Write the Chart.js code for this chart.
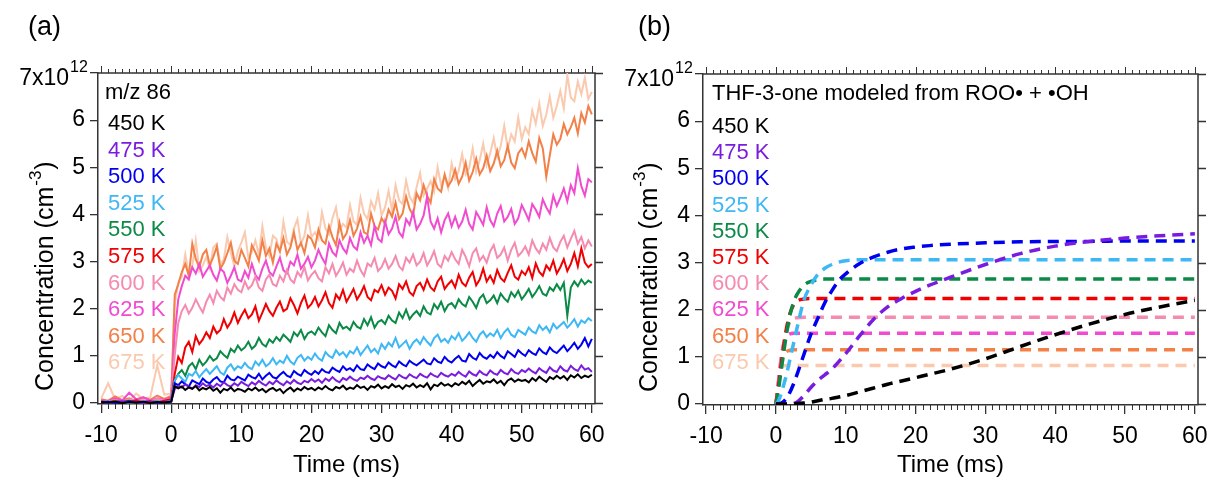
<!DOCTYPE html>
<html>
<head>
<meta charset="utf-8">
<script src="https://cdn.jsdelivr.net/npm/chart.js@4.4.1/dist/chart.umd.min.js"></script>
<style>
  body { margin: 0; background: #fff; }
  #wrap { position: relative; width: 1211px; height: 481px; }
  canvas { position: absolute; top: 0; }
</style>
</head>
<body>
<div id="wrap">
  <canvas id="chartA" width="606" height="481" style="left:0px"></canvas>
  <canvas id="chartB" width="605" height="481" style="left:606px"></canvas>
</div>
<script>
// Temperaturen + Farben (gleich in beiden Panels)
const tempLabels = ['450 K', '475 K', '500 K', '525 K', '550 K', '575 K', '600 K', '625 K', '650 K', '675 K'];
const tempColors = ['#000000', '#7A1CE0', '#0000F0', '#3DB8F5', '#0B8A47', '#F00000', '#F58BB0', '#F14BD0', '#F28048', '#FAC9AE'];

// Zeitachse Panel (a): -10..-1 ms, dann 0..60 ms alle 0.5 ms
const timeA = [-10, -9, -8, -7, -6, -5, -4, -3, -2, -1];
for (let t = 0; t <= 60; t += 0.5) timeA.push(t);

// gemessene Konzentration m/z 86 (in 1e12 cm^-3)
const a450 = [0.02,0.01,0.03,0.00,0.02,0.01,0.03,0.00,0.02,0.01,0.03,
  0.36,0.31,0.35,0.28,0.33,0.30,0.36,0.27,0.32,0.29,
  0.34,0.26,0.31,0.22,0.30,0.27,0.33,0.25,0.30,0.28,
  0.24,0.31,0.27,0.33,0.26,0.30,0.23,0.29,0.32,0.26,
  0.30,0.21,0.28,0.33,0.25,0.31,0.27,0.34,0.29,0.32,
  0.27,0.33,0.29,0.36,0.30,0.27,0.34,0.31,0.37,0.29,
  0.33,0.30,0.38,0.32,0.35,0.28,0.36,0.33,0.39,0.31,
  0.36,0.32,0.40,0.34,0.37,0.30,0.38,0.35,0.41,0.33,
  0.38,0.34,0.42,0.29,0.39,0.36,0.43,0.37,0.40,0.35,
  0.42,0.38,0.45,0.40,0.47,0.36,0.43,0.49,0.41,0.46,
  0.44,0.50,0.42,0.47,0.38,0.48,0.52,0.45,0.50,0.47,
  0.49,0.44,0.53,0.47,0.56,0.50,0.45,0.55,0.51,0.58,
  0.52,0.57,0.49,0.59,0.54,0.61,0.53,0.58,0.55,0.60];
const a475 = [0.03,0.00,0.02,0.04,0.01,0.02,0.00,0.03,0.01,0.02,0.04,
  0.30,0.37,0.33,0.40,0.35,0.31,0.38,0.34,0.42,0.36,
  0.39,0.33,0.41,0.36,0.44,0.38,0.35,0.42,0.37,0.45,
  0.40,0.36,0.44,0.39,0.47,0.41,0.37,0.45,0.40,0.48,
  0.42,0.38,0.46,0.41,0.49,0.43,0.40,0.47,0.44,0.51,
  0.45,0.50,0.43,0.52,0.47,0.55,0.48,0.44,0.53,0.49,
  0.56,0.50,0.47,0.54,0.51,0.58,0.52,0.49,0.57,0.53,
  0.51,0.59,0.54,0.50,0.60,0.55,0.52,0.61,0.56,0.53,
  0.62,0.57,0.54,0.63,0.58,0.55,0.64,0.59,0.56,0.62,
  0.58,0.66,0.60,0.56,0.67,0.61,0.58,0.68,0.62,0.59,
  0.69,0.63,0.60,0.70,0.64,0.61,0.72,0.65,0.62,0.70,
  0.66,0.73,0.67,0.63,0.74,0.68,0.64,0.76,0.69,0.66,
  0.78,0.70,0.67,0.79,0.72,0.68,0.80,0.71,0.74,0.66];
const a500 = [0.01,0.03,0.00,0.02,0.04,0.01,0.02,0.03,0.00,0.02,0.03,
  0.42,0.38,0.46,0.40,0.35,0.48,0.44,0.40,0.52,0.45,
  0.42,0.50,0.55,0.46,0.44,0.58,0.50,0.48,0.56,0.52,
  0.48,0.60,0.55,0.52,0.62,0.50,0.58,0.64,0.55,0.52,
  0.60,0.66,0.58,0.55,0.68,0.62,0.58,0.70,0.64,0.60,
  0.68,0.62,0.72,0.66,0.64,0.75,0.70,0.66,0.78,0.70,
  0.74,0.68,0.80,0.72,0.70,0.82,0.76,0.72,0.84,0.78,
  0.75,0.86,0.80,0.76,0.88,0.82,0.78,0.90,0.84,0.80,
  0.86,0.92,0.84,0.82,0.95,0.88,0.85,0.98,0.90,0.86,
  0.94,1.00,0.90,0.88,1.04,0.96,0.92,1.06,0.98,0.94,
  1.02,0.96,1.08,1.00,0.95,1.10,1.04,0.98,1.12,1.05,
  1.00,1.12,1.06,1.02,1.16,1.08,1.04,1.18,1.10,1.06,
  1.14,1.22,1.10,1.18,1.28,1.15,1.24,1.38,1.20,1.36];
const a525 = [0.02,0.04,0.01,0.03,0.00,0.02,0.04,0.01,0.03,0.02,0.05,
  0.48,0.60,0.52,0.45,0.62,0.58,0.68,0.55,0.64,0.72,
  0.62,0.70,0.78,0.65,0.60,0.75,0.82,0.70,0.78,0.74,
  0.85,0.76,0.72,0.88,0.80,0.92,0.78,0.84,0.95,0.82,
  0.90,0.85,1.00,0.88,0.82,0.96,1.02,0.90,0.98,0.92,
  1.05,0.95,0.90,1.08,1.00,0.96,1.12,1.02,1.08,0.98,
  1.10,1.05,1.18,1.02,1.12,1.22,1.08,1.15,1.05,1.25,
  1.15,1.28,1.20,1.38,1.18,1.25,1.32,1.15,1.28,1.35,
  1.25,1.40,1.30,1.22,1.38,1.45,1.30,1.36,1.28,1.42,
  1.35,1.48,1.32,1.40,1.50,1.38,1.30,1.45,1.52,1.40,
  1.48,1.42,1.55,1.38,1.50,1.58,1.45,1.40,1.55,1.50,
  1.45,1.60,1.52,1.48,1.65,1.55,1.62,1.50,1.68,1.58,
  1.65,1.72,1.60,1.68,1.78,1.62,1.75,1.70,1.80,1.74];
const a550 = [0.03,0.01,0.04,0.02,0.05,0.00,0.03,0.02,0.04,0.01,0.06,
  0.48,0.62,0.70,0.58,0.78,0.85,0.72,0.92,0.80,0.88,
  1.00,0.90,0.95,1.10,1.02,0.96,1.15,1.08,1.22,1.12,
  1.18,1.30,1.15,1.22,1.38,1.25,1.20,1.35,1.28,1.40,
  1.32,1.45,1.38,1.30,1.50,1.42,1.55,1.36,1.48,1.52,
  1.45,1.60,1.50,1.42,1.65,1.55,1.48,1.70,1.58,1.62,
  1.55,1.72,1.62,1.58,1.78,1.65,1.82,1.60,1.72,1.76,
  1.68,1.85,1.75,1.70,1.92,1.80,1.98,1.78,1.88,1.95,
  1.85,2.05,1.92,1.88,2.10,2.00,2.15,1.95,2.08,2.12,
  2.02,2.20,2.10,2.05,2.25,2.15,2.02,2.22,2.30,2.12,
  2.18,2.28,2.12,2.32,2.22,2.15,2.35,2.25,2.38,2.20,
  2.30,2.42,2.25,2.35,2.48,2.32,2.28,2.45,2.38,2.52,
  2.40,2.55,1.85,2.45,2.58,2.48,2.62,2.52,2.60,2.55];
const a575 = [0.04,0.02,0.05,0.01,0.03,0.06,0.02,0.04,0.01,0.05,0.08,
  0.62,0.98,0.85,1.18,1.30,1.08,1.42,1.25,1.35,1.50,
  1.38,1.62,1.48,1.55,1.78,1.60,1.72,1.92,1.70,1.85,
  1.98,1.80,1.88,2.05,1.75,1.92,2.10,1.95,1.85,2.02,
  2.15,1.95,2.00,2.22,2.08,1.90,2.12,2.28,2.02,2.10,
  2.25,2.05,2.18,2.35,2.12,2.02,2.30,2.20,2.40,2.15,
  2.28,2.42,2.20,2.32,2.48,2.25,2.18,2.40,2.35,2.50,
  2.30,2.45,2.38,2.22,2.52,2.42,2.58,2.35,2.28,2.48,
  2.55,2.40,2.62,2.45,2.38,2.58,2.68,2.42,2.52,2.60,
  2.45,2.72,2.55,2.48,2.66,2.78,2.50,2.62,2.85,2.58,
  2.70,2.55,2.82,2.65,2.58,2.76,2.92,2.68,2.62,2.80,
  2.72,2.88,2.65,2.96,2.78,2.70,2.92,2.82,3.02,2.75,
  2.88,3.05,2.80,2.95,3.18,2.90,3.28,2.98,2.88,2.95];
const a600 = [0.05,0.03,0.07,0.02,0.08,0.04,0.06,0.03,0.09,0.05,0.10,
  1.02,1.70,1.95,2.08,1.90,2.02,2.20,2.05,1.92,2.15,
  2.30,2.12,2.38,2.25,2.18,2.45,2.32,2.52,2.40,2.35,
  2.58,2.42,2.50,2.68,2.45,2.38,2.62,2.72,2.52,2.48,
  2.70,2.58,2.82,2.62,2.55,2.78,2.68,2.88,2.60,2.72,
  2.80,2.65,2.58,2.88,2.75,2.95,2.70,2.82,2.98,2.72,
  2.85,2.78,3.02,2.82,2.70,2.96,2.90,3.08,2.80,2.88,
  3.05,2.85,2.95,3.12,2.90,2.82,3.08,2.98,3.15,2.92,
  3.00,3.18,2.92,3.05,3.22,2.95,2.88,3.12,3.02,3.20,
  3.05,2.95,3.25,3.10,2.90,3.18,3.28,3.02,3.12,2.98,
  3.22,3.35,3.08,3.15,3.30,3.02,3.25,3.40,3.12,3.20,
  3.32,3.15,3.45,3.28,3.18,3.38,3.25,3.50,3.30,3.22,
  3.42,3.55,3.30,3.48,3.65,3.38,3.52,3.28,3.45,3.32];
const a625 = [0.06,0.04,0.10,0.05,0.22,0.08,0.12,0.05,0.10,0.07,0.12,
  1.48,2.20,2.48,2.70,2.62,2.88,2.75,2.95,2.68,2.80,
  2.92,2.72,2.60,2.85,2.78,2.55,2.70,2.88,2.62,2.58,
  2.80,2.66,2.95,2.72,2.62,2.85,3.02,2.78,2.70,2.90,
  3.08,2.82,2.75,3.00,2.92,3.15,2.85,2.95,3.10,2.88,
  3.02,3.25,3.08,2.95,3.38,3.20,3.12,3.45,3.28,3.18,
  3.50,3.32,3.25,3.62,3.40,3.55,3.35,3.75,3.48,3.42,
  3.85,3.58,3.70,3.95,3.62,3.52,3.90,3.78,4.05,3.68,
  3.80,3.98,4.38,3.85,3.70,3.92,3.62,3.88,4.02,3.75,
  3.95,3.72,3.85,4.10,3.80,3.68,4.05,3.92,3.78,4.15,
  3.88,3.75,4.02,4.18,3.85,3.95,4.12,3.80,3.92,4.20,
  4.05,3.88,4.22,4.10,3.95,4.32,4.15,4.02,4.40,4.18,
  4.35,4.55,4.28,4.62,4.45,4.98,4.60,4.40,4.75,4.68];
const a650 = [0.08,0.05,0.14,0.06,0.10,0.03,0.12,0.07,0.16,0.09,0.15,
  2.30,2.52,2.78,2.95,2.70,3.38,3.05,2.88,3.15,3.25,
  2.92,3.10,3.32,2.85,2.98,3.18,3.40,3.02,2.95,3.25,
  3.08,2.90,3.35,3.20,3.02,3.45,3.12,3.28,2.98,3.38,
  3.22,3.50,3.15,3.30,3.62,3.25,3.40,3.18,3.55,3.48,
  3.30,3.68,3.45,3.38,3.75,3.52,3.35,3.82,3.48,3.60,
  3.88,3.55,3.70,3.95,3.62,3.58,4.02,3.75,3.68,3.92,
  3.80,4.10,3.95,4.25,3.90,4.02,4.38,4.12,3.98,4.45,
  4.30,4.62,4.40,4.25,4.75,4.55,4.48,4.85,4.60,4.72,
  4.95,4.65,4.80,5.10,4.72,4.90,5.18,4.85,4.98,5.25,
  4.92,5.08,5.35,5.02,5.15,5.45,5.10,4.98,5.30,5.40,
  5.22,5.55,5.30,5.12,5.62,5.40,4.80,5.25,5.70,5.48,
  5.60,5.92,5.70,5.85,6.05,5.72,6.15,5.95,6.30,6.12];
const a675 = [0.10,0.42,0.08,0.15,0.05,0.20,0.09,0.12,0.80,0.18,0.20,
  2.10,2.55,2.68,3.15,2.74,2.90,3.45,2.80,2.92,3.10,
  2.85,3.30,3.38,2.95,3.05,3.52,3.18,2.90,3.22,3.40,
  3.62,3.08,3.20,3.45,3.15,3.75,3.30,3.12,3.55,3.48,
  3.20,3.85,3.42,3.35,3.70,3.90,3.38,3.55,3.98,3.52,
  3.62,3.48,4.05,3.70,3.58,3.92,4.15,3.65,3.80,3.72,
  4.20,3.85,3.78,4.35,4.02,3.90,4.28,4.10,4.45,3.98,
  4.15,4.50,4.08,4.62,4.30,4.22,4.72,4.38,4.25,4.58,
  4.88,4.40,4.55,4.70,4.48,5.00,4.62,4.80,4.55,5.08,
  4.75,4.92,5.28,4.85,4.98,5.40,4.90,5.15,5.50,5.05,
  5.30,5.62,5.22,5.45,5.88,5.40,5.70,5.55,6.05,5.60,
  5.85,5.70,6.20,5.92,6.35,5.88,6.12,6.50,6.05,6.30,
  6.62,6.25,6.95,6.48,6.40,6.82,6.55,6.90,6.45,6.60];

// Modell Panel (b): THF-3-one aus ROO + OH
const timeB = [0,0.25,0.5,0.75,1,1.5,2,2.5,3,4,5,6,7,8,9,10,12,14,16,18,20,22,25,30,35,40,45,50,55,60];
const b450 = [0,0,0,0,0,0,0,0,0.01,0.02,0.04,0.07,0.10,0.12,0.15,0.18,0.26,0.34,0.42,0.49,0.56,0.63,0.74,0.96,1.22,1.47,1.70,1.90,2.06,2.20];
const b475 = [0,0,0,0,0,0,0,0.01,0.04,0.18,0.35,0.50,0.62,0.74,0.90,1.07,1.45,1.80,2.06,2.24,2.39,2.52,2.69,2.96,3.19,3.35,3.45,3.52,3.57,3.61];
const b500 = [0,0,0.01,0.02,0.04,0.12,0.25,0.42,0.62,1.05,1.48,1.82,2.15,2.40,2.62,2.76,2.98,3.12,3.22,3.29,3.33,3.36,3.39,3.42,3.44,3.45,3.45,3.46,3.46,3.46];
const b525 = [0,0.04,0.12,0.22,0.35,0.62,0.95,1.27,1.60,2.20,2.52,2.75,2.88,2.96,3.01,3.04,3.06,3.06,3.06,3.06,3.06,3.06,3.06,3.06,3.06,3.06,3.06,3.06,3.06,3.06];
const b550 = [0,0.20,0.45,0.72,0.98,1.48,1.88,2.15,2.32,2.52,2.60,2.63,2.65,2.65,2.65,2.65,2.65,2.65,2.65,2.65,2.65,2.65,2.65,2.65,2.65,2.65,2.65,2.65,2.65,2.65];
const b575 = [0,0.26,0.55,0.85,1.12,1.60,1.92,2.10,2.18,2.23,2.24,2.24,2.24,2.24,2.24,2.24,2.24,2.24,2.24,2.24,2.24,2.24,2.24,2.24,2.24,2.24,2.24,2.24,2.24,2.24];
const b600 = [0,0.30,0.62,0.95,1.20,1.55,1.74,1.81,1.83,1.84,1.84,1.84,1.84,1.84,1.84,1.84,1.84,1.84,1.84,1.84,1.84,1.84,1.84,1.84,1.84,1.84,1.84,1.84,1.84,1.84];
const b625 = [0,0.32,0.66,0.98,1.20,1.42,1.49,1.50,1.50,1.50,1.50,1.50,1.50,1.50,1.50,1.50,1.50,1.50,1.50,1.50,1.50,1.50,1.50,1.50,1.50,1.50,1.50,1.50,1.50,1.50];
const b650 = [0,0.30,0.60,0.85,1.00,1.11,1.14,1.15,1.15,1.15,1.15,1.15,1.15,1.15,1.15,1.15,1.15,1.15,1.15,1.15,1.15,1.15,1.15,1.15,1.15,1.15,1.15,1.15,1.15,1.15];
const b675 = [0,0.35,0.62,0.77,0.81,0.82,0.82,0.82,0.82,0.82,0.82,0.82,0.82,0.82,0.82,0.82,0.82,0.82,0.82,0.82,0.82,0.82,0.82,0.82,0.82,0.82,0.82,0.82,0.82,0.82];

const X_MIN = -10.45, X_MAX = 60.45;
const FONT = '"Liberation Sans", Arial, sans-serif';
Chart.defaults.font.family = FONT;
Chart.defaults.color = '#000';

const frameColor = '#333';

// Achsen links + unten (mit Beschriftung), Rest macht das Plugin
function makeScales(box) {
  return {
    x: {
      type: 'linear', position: 'bottom', min: X_MIN, max: X_MAX,
      ticks: { stepSize: 10, includeBounds: false, font: { size: 23 }, padding: 9, maxRotation: 0, autoSkip: false, color: '#000' },
      grid: { drawOnChartArea: false, tickLength: 9, color: frameColor, lineWidth: 1.3 },
      border: { color: frameColor, width: 1.5 },
      title: { display: true, text: 'Time (ms)', font: { size: 24 }, color: '#000', padding: { top: 0, bottom: 1 } },
      afterFit: s => { s.height = box.bottom; s.paddingLeft = 0; s.paddingRight = 0; }
    },
    y: {
      type: 'linear', position: 'left', min: -0.02, max: 7,
      ticks: {
        stepSize: 1, includeBounds: false, font: { size: 23 }, padding: 5, color: '#000',
        callback: v => (v === 7 ? '' : String(v))   // 7x10^12 zeichnet das Plugin
      },
      grid: { drawOnChartArea: false, tickLength: 8, color: frameColor, lineWidth: 1.3 },
      border: { color: frameColor, width: 1.5 },
      afterFit: s => { s.width = box.left; s.paddingTop = 0; s.paddingBottom = 0; }
    }
  };
}

// Rahmen oben/rechts, Nebenstriche, y-Titel, Beschriftung im Plot + Panel-Buchstabe
function makePanelPlugin(cfg) {
  return {
    id: 'panelExtras',
    beforeDatasetsDraw(chart) {
      const ctx = chart.ctx;
      const a = chart.chartArea;
      const xs = chart.scales.x;
      const ys = chart.scales.y;
      ctx.save();
      ctx.strokeStyle = frameColor;

      // Rahmen oben + rechts
      ctx.lineWidth = 1.5;
      ctx.beginPath();
      ctx.moveTo(a.left, a.top);
      ctx.lineTo(a.right, a.top);
      ctx.lineTo(a.right, a.bottom);
      ctx.stroke();

      // x-Striche: jede ms klein, alle 10 ms gross (oben), unten nur klein
      ctx.lineWidth = 1;
      ctx.beginPath();
      for (let v = Math.ceil(xs.min); v <= Math.floor(xs.max); v++) {
        const px = Math.round(xs.getPixelForValue(v)) + 0.5;
        const major = v % 10 === 0;
        ctx.moveTo(px, a.top);
        ctx.lineTo(px, a.top - (major ? 7 : 4));
        if (!major) {
          ctx.moveTo(px, a.bottom);
          ctx.lineTo(px, a.bottom + 5);
        }
      }
      ctx.stroke();

      // y-Striche rechts
      ctx.lineWidth = 1.3;
      ctx.beginPath();
      ys.ticks.forEach(tk => {
        const py = Math.round(ys.getPixelForValue(tk.value)) + 0.5;
        ctx.moveTo(a.right, py);
        ctx.lineTo(a.right + 8, py);
      });
      ctx.stroke();

      ctx.fillStyle = '#000';
      // oberstes Tick-Label 7x10^12
      const y7 = ys.getPixelForValue(7);
      ctx.textBaseline = 'middle';
      ctx.textAlign = 'right';
      ctx.font = '23px ' + FONT;
      ctx.fillText('7x10', a.left - 29, y7 + 6);
      ctx.textAlign = 'left';
      ctx.font = '16px ' + FONT;
      ctx.fillText('12', a.left - 28, y7 - 5);

      // y-Titel mit Hochzahl
      ctx.save();
      ctx.translate(cfg.titleX, cfg.titleY);
      ctx.rotate(-Math.PI / 2);
      ctx.textAlign = 'left';
      ctx.textBaseline = 'middle';
      ctx.font = '25px ' + FONT;
      const t1 = 'Concentration (cm';
      const w1 = ctx.measureText(t1).width;
      ctx.fillText(t1, 0, 0);
      ctx.font = '17px ' + FONT;
      const w2 = ctx.measureText('-3').width;
      ctx.fillText('-3', w1 + 1, -10);
      ctx.font = '25px ' + FONT;
      ctx.fillText(')', w1 + w2 + 2, 0);
      ctx.restore();

      // Beschriftung im Plot
      ctx.textBaseline = 'middle';
      ctx.textAlign = 'left';
      ctx.font = '22px ' + FONT;
      ctx.fillText(cfg.header, cfg.headerX, cfg.headerY);
      tempLabels.forEach((name, i) => {
        ctx.fillStyle = tempColors[i];
        ctx.fillText(name, cfg.x, cfg.y0 + i * cfg.step);
      });
      ctx.font = '27px ' + FONT;
      ctx.fillStyle = '#000';
      ctx.fillText(cfg.panel, cfg.panelX, cfg.panelY);
      ctx.restore();
    }
  };
}

const seriesA = [a450, a475, a500, a525, a550, a575, a600, a625, a650, a675];
const seriesB = [b450, b475, b500, b525, b550, b575, b600, b625, b650, b675];

const chartA = new Chart(document.getElementById('chartA'), {
  type: 'line',
  data: {
    datasets: seriesA.map((vals, i) => ({
      label: tempLabels[i],
      data: timeA.map((t, j) => ({ x: t, y: vals[j] })),
      borderColor: tempColors[i],
      borderWidth: 2,
      pointRadius: 0,
      tension: 0,
      fill: false
    }))
  },
  options: {
    responsive: false,
    animation: false,
    devicePixelRatio: 1,
    layout: { padding: { top: 73, right: 11, left: 0, bottom: 0 } },
    plugins: { legend: { display: false }, tooltip: { enabled: false } },
    scales: makeScales({ left: 98, bottom: 77 })
  },
  plugins: [makePanelPlugin({
    titleX: 46, titleY: 391,
    header: 'm/z 86', headerX: 105, headerY: 93, x: 108, y0: 124, step: 26.6,
    panel: '(a)', panelX: 28, panelY: 28
  })]
});

const chartB = new Chart(document.getElementById('chartB'), {
  type: 'line',
  data: {
    datasets: seriesB.map((vals, i) => ({
      label: tempLabels[i],
      data: timeB.map((t, j) => ({ x: t, y: vals[j] })),
      borderColor: tempColors[i],
      borderWidth: 3.5,
      borderDash: [11, 7],
      pointRadius: 0,
      cubicInterpolationMode: 'monotone',
      fill: false
    }))
  },
  options: {
    responsive: false,
    animation: false,
    devicePixelRatio: 1,
    layout: { padding: { top: 74, right: 13, left: 0, bottom: 0 } },
    plugins: { legend: { display: false }, tooltip: { enabled: false } },
    scales: makeScales({ left: 97, bottom: 76 })
  },
  plugins: [makePanelPlugin({
    titleX: 44, titleY: 392,
    header: 'THF-3-one modeled from ROO\u2022 + \u2022OH', headerX: 106, headerY: 94, x: 106, y0: 127, step: 26.2,
    panel: '(b)', panelX: 32, panelY: 28
  })]
});
</script>
</body>
</html>
